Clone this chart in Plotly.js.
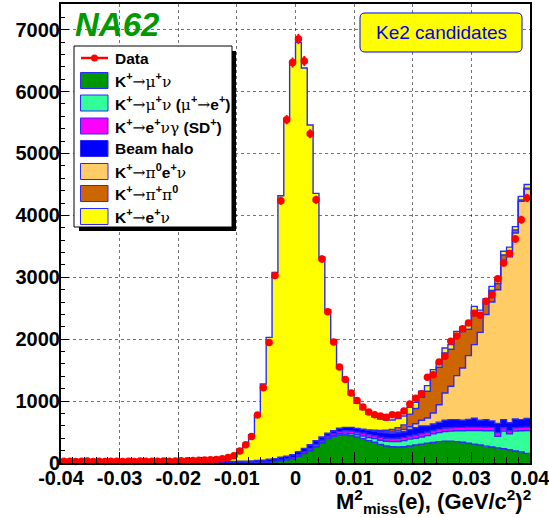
<!DOCTYPE html>
<html>
<head>
<meta charset="utf-8">
<script src="https://cdn.plot.ly/plotly-3.0.1.min.js"></script>
<style>html,body{margin:0;padding:0;background:#fff;}#chart{width:549px;height:518px;}</style>
</head>
<body>
<div id="chart"></div>
<script>
// Bin edges of M2miss(e) histogram, (GeV/c^2)^2
const binEdges = [-0.040,-0.039,-0.038,-0.037,-0.036,-0.035,-0.034,-0.033,-0.032,-0.031,
  -0.030,-0.029,-0.028,-0.027,-0.026,-0.025,-0.024,-0.023,-0.022,-0.021,
  -0.020,-0.019,-0.018,-0.017,-0.016,-0.015,-0.014,-0.013,-0.012,-0.011,
  -0.010,-0.009,-0.008,-0.007,-0.006,-0.005,-0.004,-0.003,-0.002,-0.001,
  0.000,0.001,0.002,0.003,0.004,0.005,0.006,0.007,0.008,0.009,
  0.010,0.011,0.012,0.013,0.014,0.015,0.016,0.017,0.018,0.019,
  0.020,0.021,0.022,0.023,0.024,0.025,0.026,0.027,0.028,0.029,
  0.030,0.031,0.032,0.033,0.034,0.035,0.036,0.037,0.038,0.039,0.040];

const dataCounts = [28,30,25,27,31,26,29,24,30,27,
  25,29,26,31,28,30,27,33,29,31,
  35,38,42,45,48,52,55,70,90,118,
  195,296,430,775,1216,1948,3031,4237,5546,6470,
  6850,6494,5320,4253,3295,2444,1955,1551,1350,1131,
  1009,905,824,781,760,740,781,775,840,955,
  1045,1118,1384,1426,1631,1723,1965,2050,2170,2262,
  2418,2385,2615,2719,2975,3231,3385,3620,3931,4281];

const kmunu = [0,0,0,0,0,0,0,0,0,0, 0,0,0,0,0,0,0,0,0,0, 0,0,0,0,0,0,0,0,0,0,
  0,0,0,3,6,12,22,38,54,65,
  108,151,199,258,323,390,431,452,458,445,
  420,393,361,334,300,275,262,258,262,275,
  290,305,318,332,345,352,352,345,335,320,
  305,290,272,258,245,230,215,195,180,155];

const kmunuDecay = [0,0,0,0,0,0,0,0,0,0, 0,0,0,0,0,0,0,0,0,0, 0,0,0,0,0,0,0,0,0,0,
  0,0,0,0,0,0,0,0,0,2,
  4,6,8,10,12,14,16,20,24,30,
  36,44,52,60,68,76,84,90,100,110,
  110,115,124,138,145,158,163,175,185,205,
  220,235,248,262,185,285,255,320,340,370];

const kenugSD = [0,0,0,0,0,0,0,0,0,0, 0,0,0,0,0,0,0,0,0,0, 0,0,0,0,0,0,0,0,0,0,
  0,0,2,3,5,8,8,10,12,18,
  20,25,30,33,33,32,28,35,38,40,
  42,44,45,46,48,50,50,52,52,52,
  52,54,55,55,58,55,55,55,55,55,
  55,55,58,55,60,55,50,55,55,55];

const beamHalo = [10,9,11,10,12,10,11,9,12,10,
  11,12,10,13,11,12,13,12,14,13,
  15,14,16,15,17,18,20,22,24,26,
  28,30,32,34,36,40,40,44,42,50,
  51,55,59,60,52,46,45,55,55,60,
  62,65,70,75,80,85,85,88,92,103,
  118,126,103,105,112,125,130,125,115,125,
  145,110,122,105,150,130,130,140,125,140];

const kpi0enu = [0,0,0,0,0,0,0,0,0,0, 0,0,0,0,0,0,0,0,0,0, 0,0,0,0,0,0,0,0,0,0,
  0,0,0,0,0,0,0,0,0,0, 0,0,0,0,0,0,0,0,0,0,
  0,0,0,5,10,15,20,28,35,45,
  65,90,127,178,282,441,539,711,845,1029,
  1187,1421,1700,1920,2160,2550,2680,3006,3527,3706];

const kpipi0 = [0,0,0,0,0,0,0,0,0,0, 0,0,0,0,0,0,0,0,0,0, 0,0,0,0,0,0,0,0,0,0,
  0,0,0,0,0,0,0,0,0,0, 0,0,0,0,0,0,0,0,0,0,
  0,0,5,10,18,28,40,55,75,205,
  245,373,433,615,604,647,598,641,590,426,
  549,294,190,189,100,110,97,47,21,14];

const kenu = [14,15,14,16,15,16,17,16,18,17,
  19,18,20,19,21,22,21,24,23,26,
  27,30,32,36,38,42,48,55,41,84,
  187,250,423,724,1229,1970,3010,4226,5459,6353,
  6612,6144,5164,3994,2908,1995,1472,968,755,525,
  405,319,252,215,186,166,154,149,144,110,
  100,95,90,85,80,80,75,75,70,70,
  70,65,65,65,60,60,60,55,60,60];

const xTickVals = [-0.04,-0.03,-0.02,-0.01,0,0.01,0.02,0.03,0.04];
const xTickText = ['-0.04','-0.03','-0.02','-0.01','0','0.01','0.02','0.03','0.04'];
const yTickVals = [0,1000,2000,3000,4000,5000,6000,7000];
const yTickText = ['0','1000','2000','3000','4000','5000','6000','7000'];

const components = [
  {name:'K+→μ+ν', vals:kmunu, color:'#009600'},
  {name:'K+→μ+ν (μ+→e+)', vals:kmunuDecay, color:'#33ff99'},
  {name:'K+→e+νγ (SD+)', vals:kenugSD, color:'#ff00ff'},
  {name:'Beam halo', vals:beamHalo, color:'#0000ff'},
  {name:'K+→π0e+ν', vals:kpi0enu, color:'#ffcc66'},
  {name:'K+→π+π0', vals:kpipi0, color:'#cc6600'},
  {name:'K+→e+ν', vals:kenu, color:'#ffff00'}
];

const OUTLINE = '#2a2aff';
const traces = components.map(c => ({
  type:'scatter', mode:'lines', x: binEdges, y: c.vals.concat([c.vals[c.vals.length-1]]),
  stackgroup:'mc', line:{shape:'hv', color:OUTLINE, width:1.4}, fillcolor:c.color,
  name:c.name, showlegend:false, hoverinfo:'skip'
}));

const centers = dataCounts.map((v,i) => (binEdges[i]+binEdges[i+1])/2);
traces.push({
  type:'scatter', mode:'markers', x:centers, y:dataCounts, name:'Data', showlegend:false,
  marker:{color:'#ff0000', size:7.5},
  error_y:{type:'sqrt', color:'#ff0000', thickness:2, width:0},
  error_x:{type:'constant', value:0.0005, color:'#ff0000', thickness:2, width:0},
  cliponaxis:false
});

// plot-area pixel geometry helpers (for legend/labels placed in paper coordinates)
const L=61, R=530, T=4, B=463;
const px = x => (x-L)/(R-L);
const py = y => (B-y)/(B-T);

const shapes = [];
const annotations = [];
const FONT = 'Liberation Sans, Arial, sans-serif';
const G = s => `<span style="font-family:'DejaVu Serif';font-weight:normal">${s}</span>`;

// legend shadow + box
shapes.push({type:'rect', xref:'paper', yref:'paper', x0:px(79), x1:px(236), y0:py(51), y1:py(231), fillcolor:'#000', line:{width:0}});
shapes.push({type:'rect', xref:'paper', yref:'paper', x0:px(74), x1:px(232), y0:py(46), y1:py(227), fillcolor:'#fff', line:{color:'#000', width:1}});

// data entry
shapes.push({type:'line', xref:'paper', yref:'paper', x0:px(81), x1:px(108), y0:py(58), y1:py(58), line:{color:'#ff0000', width:2.5}});
shapes.push({type:'circle', xref:'paper', yref:'paper', x0:px(91), x1:px(98), y0:py(54.5), y1:py(61.5), fillcolor:'#ff0000', line:{color:'#ff0000', width:0}});
annotations.push({xref:'paper', yref:'paper', x:px(113), y:py(58), xanchor:'left', yanchor:'middle', showarrow:false,
  text:'Data', font:{family:FONT, size:15.5, weight:700, color:'#000'}});

const legLabels = [
  'K<sup>+</sup>'+G('→μ')+'<sup>+</sup>'+G('ν'),
  'K<sup>+</sup>'+G('→μ')+'<sup>+</sup>'+G('ν')+' ('+G('μ')+'<sup>+</sup>'+G('→')+'e<sup>+</sup>)',
  'K<sup>+</sup>'+G('→')+'e<sup>+</sup>'+G('νγ')+' (SD<sup>+</sup>)',
  'Beam halo',
  'K<sup>+</sup>'+G('→π')+'<sup>0</sup>e<sup>+</sup>'+G('ν'),
  'K<sup>+</sup>'+G('→π')+'<sup>+</sup>'+G('π')+'<sup>0</sup>',
  'K<sup>+</sup>'+G('→')+'e<sup>+</sup>'+G('ν')
];
const legY = [80.5,103,126,148.5,171.5,193.5,216.5];
components.forEach((c,i) => {
  const yc = legY[i];
  shapes.push({type:'rect', xref:'paper', yref:'paper', x0:px(80.5), x1:px(108), y0:py(yc-8), y1:py(yc+8),
    fillcolor:c.color, line:{color:OUTLINE, width:1}});
  annotations.push({xref:'paper', yref:'paper', x:px(113), y:py(yc), xanchor:'left', yanchor:'middle', showarrow:false,
    text:legLabels[i], font:{family:FONT, size:15.5, weight:700, color:'#000'}});
});

// "Ke2 candidates" rounded box
function roundRect(x0,y0,x1,y1,r){
  const P=(x,y)=>`${px(x)},${py(y)}`;
  return `M${P(x0+r,y0)} L${P(x1-r,y0)} Q${P(x1,y0)} ${P(x1,y0+r)} L${P(x1,y1-r)} Q${P(x1,y1)} ${P(x1-r,y1)} `+
         `L${P(x0+r,y1)} Q${P(x0,y1)} ${P(x0,y1-r)} L${P(x0,y0+r)} Q${P(x0,y0)} ${P(x0+r,y0)} Z`;
}
shapes.push({type:'path', xref:'paper', yref:'paper', path:roundRect(360,13,522,52,5), fillcolor:'#ffff00', line:{color:'#0000ff', width:1}});
annotations.push({xref:'paper', yref:'paper', x:px(441), y:py(33), xanchor:'center', yanchor:'middle', showarrow:false,
  text:'Ke2 candidates', font:{family:FONT, size:19, color:'#0000ee'}});

// NA62 label
annotations.push({xref:'paper', yref:'paper', x:px(73), y:py(25), xanchor:'left', yanchor:'middle', showarrow:false,
  text:'NA62', font:{family:FONT, size:33, weight:700, style:'italic', color:'#009900'}});

// x-axis title
annotations.push({xref:'paper', yref:'paper', x:px(533), y:py(502), xanchor:'right', yanchor:'middle', showarrow:false,
  text:'M<sup>2</sup><sub>miss</sub>(e), (GeV/c<sup>2</sup>)<sup>2</sup>', font:{family:FONT, size:22, weight:700, color:'#000'}});

const gridStyle = {gridcolor:'rgba(0,0,0,0.55)', griddash:'dot', gridwidth:1};
const layout = {
  width:549, height:518,
  margin:{l:L, r:549-R, t:T, b:518-B, pad:0},
  paper_bgcolor:'#fff', plot_bgcolor:'#fff',
  showlegend:false,
  xaxis:Object.assign({
    range:[-0.04,0.04], tickmode:'array', tickvals:xTickVals, ticktext:xTickText,
    ticks:'inside', ticklen:11, tickwidth:1, tickcolor:'#000', ticklabelstandoff:-4,
    ticklabeloverflow:'allow',
    minor:{dtick:0.002, ticks:'inside', ticklen:6, tickcolor:'#000', showgrid:false},
    showline:true, linecolor:'#000', linewidth:2, mirror:true, zeroline:false, showgrid:true,
    tickfont:{family:FONT, size:20, weight:700, color:'#000'}
  }, gridStyle),
  yaxis:Object.assign({
    range:[0,7415], tickmode:'array', tickvals:yTickVals, ticktext:yTickText,
    ticks:'inside', ticklen:8, tickwidth:1, tickcolor:'#000', ticklabelstandoff:-5,
    ticklabeloverflow:'allow',
    minor:{dtick:200, tick0:0, ticks:'inside', ticklen:4, tickcolor:'#000', showgrid:false},
    showline:true, linecolor:'#000', linewidth:2, mirror:true, zeroline:false, showgrid:true,
    tickfont:{family:FONT, size:20, weight:700, color:'#000'}
  }, gridStyle),
  shapes:shapes, annotations:annotations
};

Plotly.newPlot('chart', traces, layout, {staticPlot:true, displayModeBar:false});
</script>
</body>
</html>
